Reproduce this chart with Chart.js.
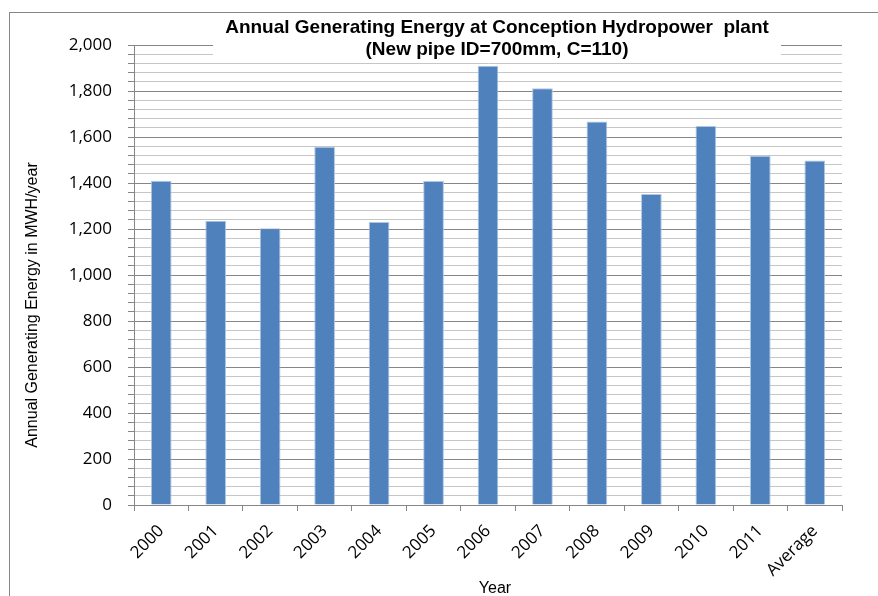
<!DOCTYPE html>
<html>
<head>
<meta charset="utf-8">
<title>Annual Generating Energy</title>
<script src="https://cdn.jsdelivr.net/npm/chart.js@4.4.0/dist/chart.umd.min.js"></script>
<style>
  html, body { margin: 0; padding: 0; background: #fff; overflow: hidden; }
  #wrap { width: 878px; height: 596px; }
</style>
</head>
<body>
<div id="wrap"><canvas id="energy-chart"></canvas></div>
<script>
// data
const years = ["2000", "2001", "2002", "2003", "2004", "2005", "2006", "2007", "2008", "2009", "2010", "2011", "Average"];
const energy = [1410, 1236, 1203, 1558, 1230, 1409, 1910, 1812, 1667, 1352, 1648, 1519, 1498];
const yMin = 0;
const yMax = 2000;
const yMajor = 200;
const yMinor = 40;

const titleLines = ["Annual Generating Energy at Conception Hydropower  plant", "(New pipe ID=700mm, C=110)"];
const yTitle = "Annual Generating Energy in MWH/year";
const xTitle = "Year";

// frame, title box and axis titles
const decorations = {
  id: "decorations",
  beforeDraw(chart) {
    const ctx = chart.ctx;
    ctx.save();
    ctx.strokeStyle = "#868686";
    ctx.lineWidth = 1;
    ctx.strokeRect(9.5, 12.5, 950, 650);
    ctx.restore();
  },
  afterDraw(chart) {
    const ctx = chart.ctx;
    ctx.save();
    ctx.fillStyle = "#fff";
    ctx.fillRect(213, 13, 568, 49);
    ctx.fillStyle = "#000";
    ctx.textAlign = "center";
    ctx.textBaseline = "middle";
    ctx.font = "bold 19px 'Liberation Sans', Arial, sans-serif";
    ctx.fillText(titleLines[0], 497, 28);
    ctx.fillText(titleLines[1], 497, 50);

    ctx.font = "16px 'Liberation Sans', Arial, sans-serif";
    ctx.fillText(xTitle, 495, 589);
    ctx.translate(33, 305);
    ctx.rotate(-Math.PI / 2);
    ctx.fillText(yTitle, 0, 0);
    ctx.restore();
  }
};

const ctx = document.getElementById("energy-chart").getContext("2d");

new Chart(ctx, {
  type: "bar",
  data: {
    labels: years,
    datasets: [{
      data: energy,
      backgroundColor: "#4f81bd",
      borderColor: "#b0c6e2",
      borderWidth: 1,
      barPercentage: 0.38,
      categoryPercentage: 1
    }]
  },
  options: {
    responsive: true,
    maintainAspectRatio: false,
    animation: false,
    layout: { padding: { left: 0, top: 45, right: 36, bottom: 0 } },
    plugins: {
      legend: { display: false },
      title: { display: false },
      tooltip: { enabled: false }
    },
    scales: {
      x: {
        offset: true,
        afterFit(scale) { scale.height = 91; },
        border: { color: "#868686", width: 1 },
        grid: {
          display: true,
          offset: true,
          drawOnChartArea: false,
          tickLength: 6,
          tickColor: "#868686"
        },
        ticks: {
          autoSkip: false,
          minRotation: 45,
          maxRotation: 45,
          padding: 10,
          color: "#000",
          font: { family: "'Open Sans', sans-serif", size: 17 }
        }
      },
      y: {
        min: yMin,
        max: yMax,
        afterFit(scale) { scale.width = 134; },
        border: { color: "#868686", width: 1 },
        grid: {
          color: (c) => (c.tick.value % yMajor === 0 ? "#868686" : "#c6c6c6"),
          tickColor: "#868686",
          tickLength: 6
        },
        ticks: {
          stepSize: yMinor,
          autoSkip: false,
          padding: 16,
          color: "#000",
          font: { family: "'Open Sans', sans-serif", size: 17 },
          callback: (v) => (v % yMajor === 0 ? v.toLocaleString("en-US") : "")
        }
      }
    }
  },
  plugins: [decorations]
});
</script>
</body>
</html>
